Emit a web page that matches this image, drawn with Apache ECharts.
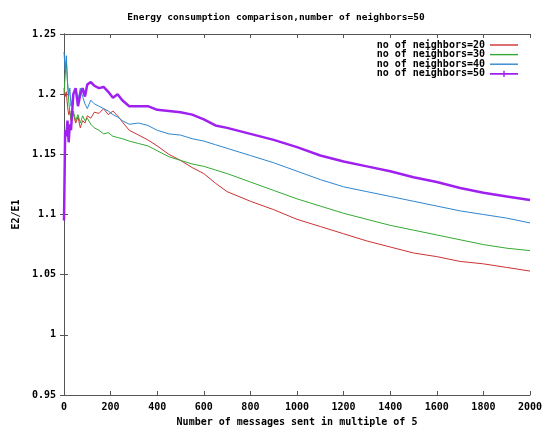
<!DOCTYPE html>
<html>
<head>
<meta charset="utf-8">
<script src="https://cdn.jsdelivr.net/npm/echarts@6/dist/echarts.min.js"></script>
<style>
  html, body { margin: 0; padding: 0; background: #fff; }
  #chart { width: 552px; height: 432px; }
</style>
</head>
<body>
<div id="chart"></div>
<script>
// messages sent (x axis), shared by every series
const messages = [0, 5, 10, 15, 20, 25, 30, 40, 50, 60, 70, 80, 90, 100, 115, 130, 150, 170, 190, 210,
  230, 250, 280, 320, 360, 400, 450, 500, 550, 600, 650, 700, 800, 900, 1000, 1100, 1200, 1300, 1400,
  1500, 1600, 1700, 1800, 1900, 2000];

const neighbors20 = [1.205, 1.198, 1.202, 1.190, 1.183, 1.186, 1.178, 1.184, 1.176, 1.181, 1.172, 1.178,
  1.176, 1.182, 1.180, 1.185, 1.184, 1.188, 1.183, 1.186, 1.182, 1.177, 1.170, 1.166, 1.162, 1.157,
  1.150, 1.145, 1.139, 1.134, 1.126, 1.119, 1.111, 1.104, 1.096, 1.090, 1.084, 1.078, 1.073, 1.068,
  1.065, 1.061, 1.059, 1.056, 1.053];

const neighbors30 = [1.200, 1.215, 1.228, 1.210, 1.195, 1.185, 1.180, 1.186, 1.178, 1.183, 1.176, 1.182,
  1.178, 1.180, 1.175, 1.172, 1.170, 1.167, 1.168, 1.165, 1.164, 1.163, 1.161, 1.159, 1.157, 1.153,
  1.148, 1.145, 1.142, 1.140, 1.137, 1.134, 1.127, 1.120, 1.113, 1.107, 1.101, 1.096, 1.091, 1.087,
  1.083, 1.079, 1.075, 1.072, 1.070];

const neighbors40 = [1.235, 1.220, 1.232, 1.210, 1.198, 1.205, 1.190, 1.200, 1.205, 1.195, 1.205, 1.198,
  1.192, 1.188, 1.195, 1.192, 1.190, 1.188, 1.186, 1.183, 1.181, 1.178, 1.175, 1.176, 1.174, 1.170,
  1.167, 1.166, 1.163, 1.161, 1.158, 1.155, 1.149, 1.143, 1.136, 1.129, 1.123, 1.119, 1.115, 1.111,
  1.107, 1.103, 1.100, 1.097, 1.093];

const neighbors50 = [1.095, 1.170, 1.165, 1.178, 1.160, 1.175, 1.170, 1.200, 1.205, 1.190, 1.200, 1.205,
  1.198, 1.208, 1.210, 1.207, 1.205, 1.206, 1.202, 1.197, 1.200, 1.195, 1.190, 1.190, 1.190, 1.187,
  1.186, 1.185, 1.183, 1.179, 1.174, 1.172, 1.167, 1.162, 1.156, 1.149, 1.144, 1.140, 1.136, 1.131,
  1.127, 1.122, 1.118, 1.115, 1.112];

const seriesNames = ['no of neighbors=20', 'no of neighbors=30', 'no of neighbors=40', 'no of neighbors=50'];
const seriesValues = [neighbors20, neighbors30, neighbors40, neighbors50];
const colors = ['#cc3333', '#33aa33', '#2f86d0', '#a020f0'];
const widths = [1, 1, 1, 2.5];

const font = 'DejaVu Sans Mono';
const textStyle = { fontFamily: font, fontWeight: 'bold', fontSize: 10, color: '#000' };

const lineIcon = 'path://M0,3.4h28v1.4h-28z';
const plusIcon = 'path://M0,3.2h28v1.8h-28z M13.3,1h1.4v6.2h-1.4z';

var chartDom = document.getElementById('chart');
var myChart = echarts.init(chartDom);

const axisLine = { show: true, lineStyle: { color: '#555', width: 1 } };
const tickStyle = { show: true, inside: true, length: 4, lineStyle: { color: '#555' } };

var option = {
  backgroundColor: '#fff',
  animation: false,
  title: {
    text: 'Energy consumption comparison,number of neighbors=50',
    left: 'center',
    top: 8,
    textStyle: { fontFamily: font, fontWeight: 'bold', fontSize: 9.5, color: '#000' }
  },
  grid: { left: 64, right: 22, top: 34, bottom: 35 },
  legend: {
    orient: 'vertical',
    right: 34,
    top: 40,
    padding: 0,
    align: 'right',
    itemWidth: 28,
    itemHeight: 8,
    itemGap: -0.4,
    textStyle: Object.assign({ lineHeight: 8 }, textStyle),
    data: seriesNames.map((name, i) => ({ name: name, icon: i === 3 ? plusIcon : lineIcon }))
  },
  xAxis: [
    {
      type: 'value',
      min: 0,
      max: 2000,
      interval: 200,
      position: 'bottom',
      name: 'Number of messages sent in multiple of 5',
      nameLocation: 'middle',
      nameGap: 22,
      nameTextStyle: textStyle,
      axisLine: axisLine,
      axisTick: tickStyle,
      axisLabel: Object.assign({ margin: 7, formatter: v => String(v) }, textStyle),
      splitLine: { show: false }
    },
    {
      type: 'value',
      min: 0,
      max: 2000,
      interval: 200,
      position: 'top',
      axisLine: axisLine,
      axisTick: tickStyle,
      axisLabel: { show: false },
      splitLine: { show: false }
    }
  ],
  yAxis: [
    {
      type: 'value',
      min: 0.95,
      max: 1.25,
      interval: 0.05,
      position: 'left',
      name: 'E2/E1',
      nameLocation: 'middle',
      nameRotate: 90,
      nameGap: 39,
      nameTextStyle: textStyle,
      axisLine: axisLine,
      axisTick: tickStyle,
      axisLabel: Object.assign({ margin: 8, formatter: v => String(+v.toFixed(2)) }, textStyle),
      splitLine: { show: false }
    },
    {
      type: 'value',
      min: 0.95,
      max: 1.25,
      interval: 0.05,
      position: 'right',
      axisLine: axisLine,
      axisTick: tickStyle,
      axisLabel: { show: false },
      splitLine: { show: false }
    }
  ],
  series: seriesNames.map((name, i) => ({
    name: name,
    type: 'line',
    xAxisIndex: 0,
    yAxisIndex: 0,
    symbol: 'none',
    color: colors[i],
    lineStyle: { color: colors[i], width: widths[i] },
    data: messages.map((m, j) => [m, seriesValues[i][j]])
  }))
};

option && myChart.setOption(option);
</script>
</body>
</html>
